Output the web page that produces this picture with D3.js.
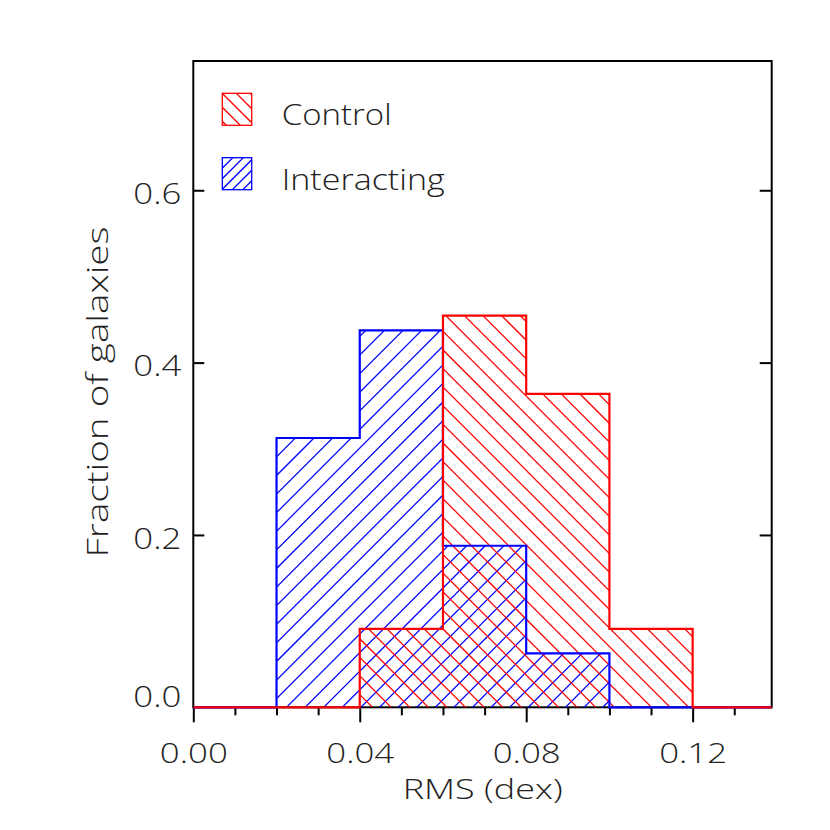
<!DOCTYPE html>
<html><head><meta charset="utf-8">
<script src="https://cdn.jsdelivr.net/npm/d3@7"></script>
<style>html,body{margin:0;padding:0;background:#fff;}svg{display:block;}</style>
</head><body>
<svg id="chart" width="830" height="830"></svg>
<script>
// ---- data ----
const binEdges = [0.00, 0.02, 0.04, 0.06, 0.08, 0.10, 0.12, 0.14];
const controlFrac = [0, 0, 0.0909, 0.4545, 0.3636, 0.0909, 0];
const interactingFrac = [0, 0.3125, 0.4375, 0.1875, 0.0625, 0, 0];
const seriesNames = ["Control", "Interacting"];
const xTickMajor = [0.00, 0.04, 0.08, 0.12];
const xTickLabels = ["0.00", "0.04", "0.08", "0.12"];
const xTickMinor = [0.01,0.02,0.03,0.05,0.06,0.07,0.09,0.10,0.11,0.13];
const yTicks = [0.0, 0.2, 0.4, 0.6];
const yTickLabels = ["0.0", "0.2", "0.4", "0.6"];
const xTitle = "RMS (dex)";
const yTitle = "Fraction of galaxies";

const FONT = "'Open Sans', 'DejaVu Sans', sans-serif";
const FW = 300;
const TXT = "#222";
const svg = d3.select("#chart");
const x = d3.scaleLinear().domain([0, 0.139]).range([193.3, 771.7]);
const y = d3.scaleLinear().domain([0, 0.75]).range([707.3, 61]);

const defs = svg.append("defs");
defs.append("clipPath").attr("id","plotclip").append("rect")
  .attr("x", x(0)).attr("y", y(0.75)).attr("width", x(0.139)-x(0)).attr("height", y(0)-y(0.75)+2);

// frame
svg.append("rect").attr("x", x(0)).attr("y", y(0.75))
  .attr("width", x(0.139)-x(0)).attr("height", y(0)-y(0.75))
  .attr("fill","none").attr("stroke","#000").attr("stroke-width",2);

// bottom axis
const xAxis = d3.axisBottom(x).tickValues(xTickMajor).tickSize(15).tickPadding(24)
  .tickFormat((d,i)=>xTickLabels[i]);
const gx = svg.append("g").attr("transform",`translate(0,${y(0)})`).call(xAxis);
gx.select(".domain").remove();
gx.selectAll(".tick line").attr("stroke","#000").attr("stroke-width",2);
gx.selectAll(".tick text").attr("font-family",FONT).attr("font-size",28).attr("font-weight",FW)
  .attr("fill",TXT).attr("dy","0.71em").attr("y",36).attr("textLength",68).attr("lengthAdjust","spacingAndGlyphs");
const xAxisMinor = d3.axisBottom(x).tickValues(xTickMinor).tickSize(8).tickFormat("");
const gxm = svg.append("g").attr("transform",`translate(0,${y(0)})`).call(xAxisMinor);
gxm.select(".domain").remove();
gxm.selectAll(".tick line").attr("stroke","#000").attr("stroke-width",2);

// left axis (ticks inward)
const yAxis = d3.axisLeft(y).tickValues(yTicks).tickSize(-11).tickPadding(12)
  .tickFormat((d,i)=>yTickLabels[i]);
const gy = svg.append("g").attr("transform",`translate(${x(0)},0)`).call(yAxis);
gy.select(".domain").remove();
gy.selectAll(".tick line").attr("stroke","#000").attr("stroke-width",2)
  .attr("display",d=>d===0?"none":null);
gy.selectAll(".tick text").attr("font-family",FONT).attr("font-size",29).attr("font-weight",FW)
  .attr("fill",TXT).attr("dy",d=>d===0?"-0.02em":"0.46em").attr("textLength",48).attr("lengthAdjust","spacingAndGlyphs");

// right axis ticks inward
const yAxisR = d3.axisRight(y).tickValues(yTicks.filter(d=>d>0)).tickSize(-12).tickFormat("");
const gyr = svg.append("g").attr("transform",`translate(${x(0.139)},0)`).call(yAxisR);
gyr.select(".domain").remove();
gyr.selectAll(".tick line").attr("stroke","#000").attr("stroke-width",2);

// histogram geometry
function stepPoints(vals){
  const pts = vals.map((v,i)=>[binEdges[i], v]);
  pts.push([binEdges[binEdges.length-1], vals[vals.length-1]]);
  return pts;
}
const lineGen = d3.line().x(d=>x(d[0])).y(d=>y(d[1])).curve(d3.curveStepAfter);
const areaGen = d3.area().x(d=>x(d[0])).y0(y(0)).y1(d=>y(d[1])).curve(d3.curveStepAfter);

function hatch(g, clipId, areaPath, color, dir, period, phase, bounds){
  defs.append("clipPath").attr("id",clipId).append("path").attr("d",areaPath);
  const grp = g.append("g").attr("clip-path",`url(#${clipId})`);
  const [x0,y0,x1,y1] = bounds;
  const lines = [];
  if(dir>0){
    const cmin = y0 - x1, cmax = y1 - x0;
    let c = Math.floor((cmin-phase)/period)*period + phase;
    for(; c<=cmax; c+=period) lines.push([x0, x0+c, x1, x1+c]);
  } else {
    const cmin = x0 + y0, cmax = x1 + y1;
    let c = Math.floor((cmin-phase)/period)*period + phase;
    for(; c<=cmax; c+=period) lines.push([x0, c-x0, x1, c-x1]);
  }
  grp.selectAll("line").data(lines).join("line")
    .attr("x1",d=>d[0]).attr("y1",d=>d[1]).attr("x2",d=>d[2]).attr("y2",d=>d[3])
    .attr("stroke",color).attr("stroke-width",1.25);
}

const plotB = [x(0), y(0.75), x(0.139), y(0)];
const hgrp = svg.append("g");
const ctrlPts = stepPoints(controlFrac), intPts = stepPoints(interactingFrac);
hatch(hgrp, "hb", areaGen(intPts), "#0000ff", -1, 18.6, 8, plotB);
hatch(hgrp, "hr", areaGen(ctrlPts), "#ff0000", 1, 18.6, 0, plotB);

const og = svg.append("g").attr("clip-path","url(#plotclip)");
og.append("path").attr("d", lineGen(intPts)).attr("fill","none").attr("stroke","#0000ff").attr("stroke-width",2.2);
og.append("path").attr("d", lineGen(ctrlPts)).attr("fill","none").attr("stroke","#ff0000").attr("stroke-width",2.2);

// legend
const legend = [
  {name: seriesNames[0], color:"#ff0000", dir: 1, period: 14, bx:222.3, by:93.3, tl:110},
  {name: seriesNames[1], color:"#0000ff", dir:-1, period: 10.5, bx:222.3, by:157.7, tl:163}
];
const lg = svg.append("g");
legend.forEach((L,i)=>{
  const w = 29.4, h = 32;
  const rectPath = `M${L.bx},${L.by}h${w}v${h}h${-w}Z`;
  hatch(lg, "lh"+i, rectPath, L.color, L.dir, L.period, L.dir>0 ? (L.by - L.bx) : (L.bx+L.by), [L.bx, L.by, L.bx+w, L.by+h]);
  lg.append("rect").attr("x",L.bx).attr("y",L.by).attr("width",w).attr("height",h)
    .attr("fill","none").attr("stroke",L.color).attr("stroke-width",1.3);
  lg.append("text").attr("x",281.7).attr("y",L.by+h).text(L.name)
    .attr("font-family",FONT).attr("font-size",29).attr("font-weight",FW).attr("fill",TXT)
    .attr("textLength", L.tl).attr("lengthAdjust","spacingAndGlyphs");
});

// titles
svg.append("text").attr("x",482.7).attr("y",799).attr("text-anchor","middle").text(xTitle)
  .attr("font-family",FONT).attr("font-size",28).attr("font-weight",FW).attr("fill",TXT)
  .attr("textLength",160).attr("lengthAdjust","spacingAndGlyphs");
svg.append("text").attr("transform","translate(108,392) rotate(-90)").attr("text-anchor","middle").text(yTitle)
  .attr("font-family",FONT).attr("font-size",29).attr("font-weight",FW).attr("fill",TXT)
  .attr("textLength",331).attr("lengthAdjust","spacingAndGlyphs");
</script>
</body></html>
